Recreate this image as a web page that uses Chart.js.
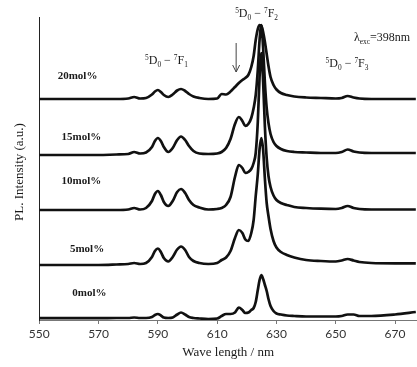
<!DOCTYPE html>
<html>
<head>
<meta charset="utf-8">
<script src="https://cdn.jsdelivr.net/npm/chart.js@4/dist/chart.umd.min.js"></script>
<style>
  html, body { margin: 0; padding: 0; background: #ffffff; }
  #c { display: block; }
</style>
</head>
<body>
<canvas id="c" width="417" height="367"></canvas>
<script>
// ---- data ----
const wavelengths = [550, 560, 570, 576, 580, 582, 584, 586, 588, 589, 590, 591, 592, 593.5, 595, 596.5, 597.8, 599.2, 600.5, 602, 604, 607, 610, 611.5, 613, 614.5, 616, 617.3, 618.5, 619.5, 620.5, 621.5, 622.3, 623, 623.7, 624.3, 624.9, 625.5, 626.1, 626.7, 627.3, 628, 629, 630, 631.5, 633.5, 636, 640, 645, 650, 652, 654, 656, 658, 662, 670, 677];

const seriesLabels = ['0mol%', '5mol%', '10mol%', '15mol%', '20mol%'];

const pl0mol = [1.8, 1.8, 1.8, 2, 2, 2.5, 2, 2, 3, 5, 6, 4.5, 2.5, 2, 2.5, 5.5, 7.5, 5.5, 3, 2, 1.5, 1, 1.5, 4, 6, 6, 7.5, 12.5, 10, 7, 7.5, 10, 12, 18, 30, 40, 45, 41, 35, 29, 21, 14, 9, 6.5, 5.5, 4.5, 4, 3.5, 3.5, 3.5, 4, 5.5, 5.5, 4, 4, 5.5, 8];

const pl5mol = [55, 55, 55, 55.5, 56, 57, 56, 57, 63, 69, 71.5, 68, 62, 58.5, 63, 70.5, 73.5, 70, 63, 59, 57, 56, 57, 60, 62.5, 69, 82, 90, 87, 80.5, 79, 87, 100, 124, 146, 171, 182, 170, 141, 117, 104, 91, 79, 72.5, 68, 65, 62.5, 60, 59, 58.5, 59.5, 61, 59.5, 58, 57, 56.7, 56.7];

const pl10mol = [110, 110, 110, 110, 110.5, 112, 110.5, 112, 119, 126, 129, 125, 118, 114, 119, 128, 131, 127, 120, 115, 112.5, 110.5, 111, 112, 115, 123, 143, 155, 152, 147, 148, 151, 157, 167, 198, 243, 267, 238, 193, 162, 144, 133, 124.5, 120, 117, 115, 113, 112, 111.3, 111, 112, 114, 112, 111, 110.5, 110.5, 110.5];

const pl15mol = [165, 165, 165, 165.5, 166, 168, 166.5, 167.5, 173, 179, 182, 179, 173, 168, 172, 180, 183.5, 180, 174, 169, 166.5, 166, 166.5, 168, 172, 181, 196, 203, 199, 194, 196, 202, 212, 225, 250, 280, 295, 272, 237, 212, 197, 186, 178, 174, 171, 169, 168, 167.5, 167, 167, 168, 170.5, 168.5, 167.5, 167, 167, 167];

const pl20mol = [221, 221, 221, 221, 221.5, 223, 221.5, 222, 225.5, 228.5, 230, 228, 225, 223, 225.5, 229.5, 231, 229, 226, 223.5, 222, 221, 221.5, 226, 225.5, 228.5, 233, 237, 240, 242, 245, 253, 264, 280, 291, 295, 294, 288, 278, 266, 254, 243, 235, 230.5, 227, 225, 223.5, 222.5, 222, 221.5, 222, 224, 222.5, 221.5, 221, 221, 221];

const xTickValues = [550, 570, 590, 610, 630, 650, 670];

// ---- chart ----
const seriesValues = [pl0mol, pl5mol, pl10mol, pl15mol, pl20mol];
const datasets = seriesValues.map((vals, i) => ({
  label: seriesLabels[i],
  data: wavelengths.map((w, j) => ({ x: w, y: vals[j] })),
  borderColor: '#111111',
  borderWidth: 2.7,
  pointRadius: 0,
  fill: false,
  cubicInterpolationMode: 'monotone'
}));

const SERIF = '"Liberation Serif", "DejaVu Serif", serif';

function drawScripted(ctx, parts, cx, cy, base) {
  // parts: [text, kind] kind: 'n' normal, 'sup', 'sub'
  const small = Math.round(base * 0.62 * 10) / 10;
  let total = 0;
  const widths = parts.map(([t, k]) => {
    ctx.font = (k === 'n' ? base : small) + 'px ' + SERIF;
    const w = ctx.measureText(t).width;
    total += w;
    return w;
  });
  let x = cx - total / 2;
  ctx.textAlign = 'left';
  ctx.textBaseline = 'alphabetic';
  const baseline = cy + base * 0.35;
  parts.forEach(([t, k], i) => {
    ctx.font = (k === 'n' ? base : small) + 'px ' + SERIF;
    let y = baseline;
    if (k === 'sup') y = baseline - base * 0.38;
    if (k === 'sub') y = baseline + base * 0.2;
    ctx.fillText(t, x, y);
    x += widths[i];
  });
}

const annotate = {
  id: 'annotate',
  afterDraw(chart) {
    const ctx = chart.ctx;
    const xs = chart.scales.x, ys = chart.scales.y;
    const px = v => xs.getPixelForValue(v);
    const py = v => ys.getPixelForValue(v);
    ctx.save();
    ctx.fillStyle = '#1a1a1a';

    // axis titles
    ctx.font = '13px ' + SERIF;
    ctx.textAlign = 'center';
    ctx.textBaseline = 'middle';
    ctx.fillText('Wave length / nm', (chart.chartArea.left + chart.chartArea.right) / 2, 353);
    ctx.save();
    ctx.translate(20, 172);
    ctx.rotate(-Math.PI / 2);
    ctx.fillText('PL. Intensity (a.u.)', 0, 0);
    ctx.restore();

    // series labels
    const labelPos = [[566.9, 27], [566.1, 71], [564.2, 139], [564.2, 183], [562.9, 244]];
    ctx.font = 'bold 11px ' + SERIF;
    ctx.textAlign = 'center';
    ctx.textBaseline = 'middle';
    seriesLabels.forEach((t, i) => {
      ctx.fillText(t, px(labelPos[i][0]), py(labelPos[i][1]));
    });

    // transitions
    const trans = [['1', 592.9, 260], ['2', 623.3, 307], ['3', 653.8, 257]];
    trans.forEach(([n, x, y]) => {
      drawScripted(ctx, [['5', 'sup'], ['D', 'n'], ['0', 'sub'], [' \u2212 ', 'n'], ['7', 'sup'], ['F', 'n'], [n, 'sub']], px(x), py(y), 12);
    });

    // excitation wavelength
    drawScripted(ctx, [['\u03BB', 'n'], ['exc', 'sub'], ['=398nm', 'n']], px(665.6), py(283), 12);

    // arrow
    const ax = px(616.4), ay1 = py(277), ay2 = py(248);
    ctx.strokeStyle = '#444';
    ctx.lineWidth = 1;
    ctx.beginPath();
    ctx.moveTo(ax, ay1);
    ctx.lineTo(ax, ay2);
    ctx.moveTo(ax - 3.5, ay2 - 7);
    ctx.lineTo(ax, ay2);
    ctx.lineTo(ax + 3.5, ay2 - 7);
    ctx.stroke();
    ctx.restore();
  }
};

new Chart(document.getElementById('c'), {
  type: 'line',
  data: { datasets },
  plugins: [annotate],
  options: {
    responsive: false,
    animation: false,
    devicePixelRatio: 1,
    layout: { padding: { top: 17, left: 0, right: 0, bottom: 0 } },
    plugins: { legend: { display: false }, tooltip: { enabled: false } },
    scales: {
      x: {
        type: 'linear',
        min: 550,
        max: 677.4,
        afterBuildTicks: s => { s.ticks = xTickValues.map(v => ({ value: v })); },
        afterFit: s => { s.height = 47; },
        grid: { display: true, drawOnChartArea: false, drawTicks: true, tickLength: 4, color: '#777' },
        border: { display: true, color: '#777', width: 1 },
        ticks: {
          padding: 3,
          color: '#333',
          maxRotation: 0,
          autoSkip: false,
          font: { family: 'Lato, "Open Sans", sans-serif', size: 12 },
          callback: v => String(v)
        }
      },
      y: {
        type: 'linear',
        min: 0,
        max: 303,
        afterFit: s => { s.width = 39.3; },
        grid: { display: false },
        border: { display: true, color: '#222', width: 1 },
        ticks: { display: false }
      }
    }
  }
});
</script>
</body>
</html>
